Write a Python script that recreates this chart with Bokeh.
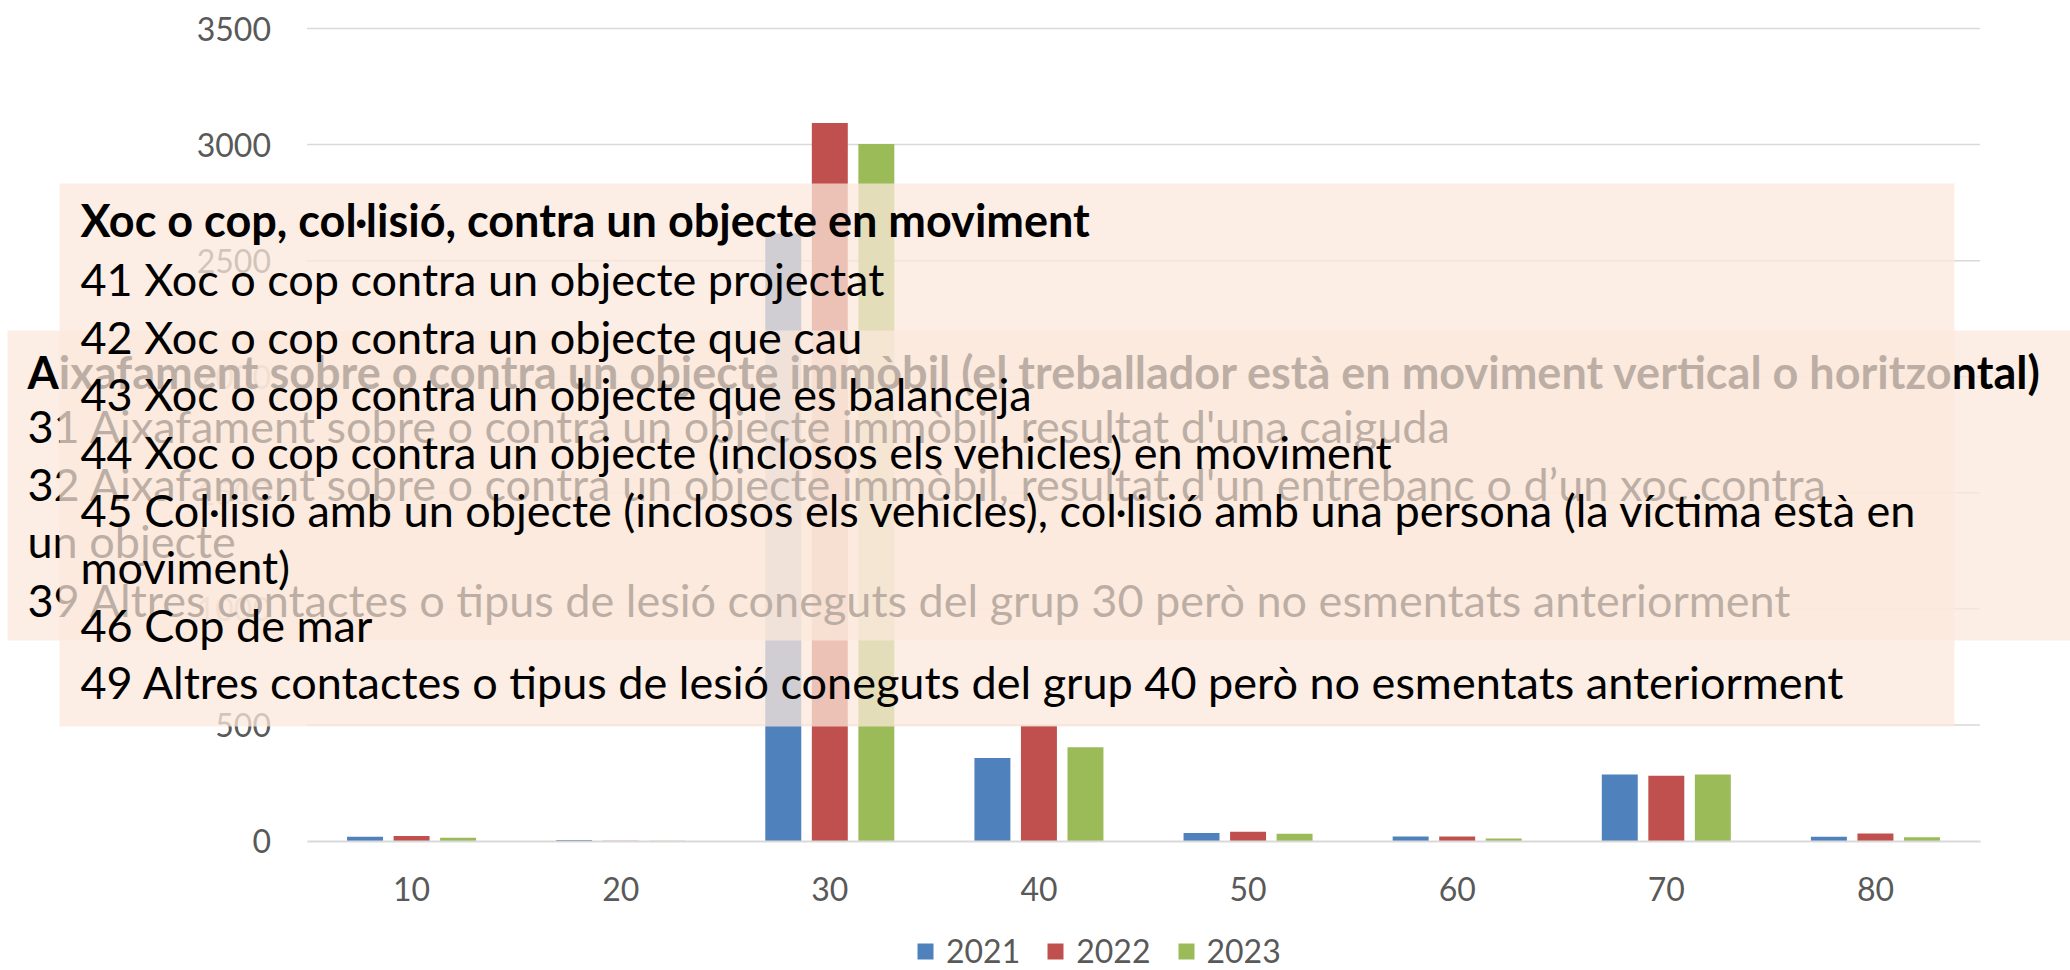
from bokeh.plotting import figure
from bokeh.models import (Range1d, ColumnDataSource, BoxAnnotation, Label, Legend,
                          LegendItem, FixedTicker, LinearAxis)
from bokeh.transform import dodge
from bokeh.embed import file_html
from bokeh.resources import INLINE

# ---------------- data ----------------
categories = ["10", "20", "30", "40", "50", "60", "70", "80"]
years = ["2021", "2022", "2023"]
v2021 = [18, 4, 2617, 358, 35, 19, 286, 18]
v2022 = [22, 1, 3093, 497, 40, 19, 281, 32]
v2023 = [14, 1, 3003, 404, 31, 11, 286, 16]
y_ticks = [0, 500, 1000, 1500, 2000, 2500, 3000, 3500]

box1_title = "Xoc o cop, col·lisió, contra un objecte en moviment"
box1_lines = [
    "41 Xoc o cop contra un objecte projectat",
    "42 Xoc o cop contra un objecte que cau",
    "43 Xoc o cop contra un objecte que es balanceja",
    "44 Xoc o cop contra un objecte (inclosos els vehicles) en moviment",
    "45 Col·lisió amb un objecte (inclosos els vehicles), col·lisió amb una persona (la víctima està en",
    "moviment)",
    "46 Cop de mar",
    "49 Altres contactes o tipus de lesió coneguts del grup 40 però no esmentats anteriorment",
]
box2_title = ("Aixafament sobre o contra un objecte immòbil (el treballador està en "
              "moviment vertical o horitzontal)")
box2_lines = [
    "31 Aixafament sobre o contra un objecte immòbil, resultat d'una caiguda",
    "32 Aixafament sobre o contra un objecte immòbil, resultat d'un entrebanc o d’un xoc contra",
    "un objecte",
    "39 Altres contactes o tipus de lesió coneguts del grup 30 però no esmentats anteriorment",
]

colors = ["#4F81BD", "#C0504D", "#9BBB59"]

# ---------------- layout (pixels) ----------------
W, H = 2070, 970
PL, PR, PT, PB = 306.5, 1979.5, 28.0, 840.5   # plot area in canvas pixels
FONT = "Lato"
AX_SIZE = "32px"
TXT_SIZE = "45px"

n = len(categories)
ymax = y_ticks[-1]
ux = (PR - PL) / n          # px per category
uy = (PB - PT) / ymax       # px per value unit

x_range = Range1d(-PL / ux, n + (W - PR) / ux)
y_range = Range1d(-(H - PB) / uy, ymax + PT / uy)

xc = [i + 0.5 for i in range(n)]
src = ColumnDataSource(dict(xc=xc, y2021=v2021, y2022=v2022, y2023=v2023))

p = figure(width=W, height=H, x_range=x_range, y_range=y_range,
           x_axis_type=None, y_axis_type=None,
           output_backend="svg", toolbar_location=None, title=None,
           min_border=0, min_border_left=0, min_border_right=0,
           min_border_top=0, min_border_bottom=0)
p.outline_line_color = None
p.background_fill_color = "white"
p.border_fill_color = "white"

# horizontal gridlines over the category area
p.segment(x0=[0] * (len(y_ticks) - 1), x1=[n] * (len(y_ticks) - 1),
          y0=y_ticks[1:], y1=y_ticks[1:], line_color="#D9D9D9", line_width=1.5)

yaxis = LinearAxis(ticker=FixedTicker(ticks=y_ticks), fixed_location=0,
                   axis_line_color=None, major_tick_line_color=None,
                   minor_tick_line_color=None, major_label_standoff=30,
                   major_label_text_font=FONT, major_label_text_font_size=AX_SIZE,
                   major_label_text_color="#595959")
p.add_layout(yaxis, "left")

xaxis = LinearAxis(ticker=FixedTicker(ticks=xc),
                   major_label_overrides={x: c for x, c in zip(xc, categories)},
                   fixed_location=0, bounds=(0, n),
                   axis_line_color="#D9D9D9", axis_line_width=2,
                   major_tick_line_color=None, minor_tick_line_color=None,
                   major_label_standoff=30,
                   major_label_text_font=FONT, major_label_text_font_size=AX_SIZE,
                   major_label_text_color="#595959")
p.add_layout(xaxis, "below")

offsets = [-0.2225, 0.0, 0.2225]
renderers = []
for yr, col, off in zip(years, colors, offsets):
    r = p.vbar(x=dodge("xc", off), top="y" + yr, width=0.172,
               source=src, fill_color=col, line_color=None)
    renderers.append(r)

legend = Legend(items=[LegendItem(label=yr, renderers=[r]) for yr, r in zip(years, renderers)],
                orientation="horizontal", location=(915, 0),
                glyph_width=20, glyph_height=20, label_standoff=11, spacing=25,
                padding=0, margin=0, border_line_color=None, background_fill_alpha=0,
                label_text_font=FONT, label_text_font_size=AX_SIZE,
                label_text_color="#595959")
p.add_layout(legend)


def dx(cx):
    return (cx - PL) / ux


def dy(cy):
    return (PB - cy) / uy


def add_box(x0, x1, y0, y1):
    p.add_layout(BoxAnnotation(left=dx(x0), right=dx(x1), top=dy(y0), bottom=dy(y1),
                               fill_color="#FBE8DB", fill_alpha=0.75, line_color=None))


def add_text(cx, cy, txt, bold=False):
    p.add_layout(Label(x=dx(cx), y=dy(cy), text=txt,
                       text_font=FONT, text_font_size=TXT_SIZE,
                       text_font_style="bold" if bold else "normal",
                       text_color="black", text_align="left", text_baseline="alphabetic"))


# box behind (group 30)
add_box(7, 2070, 330, 640)
b2 = [371, 425.5, 483, 540.5, 599]
add_text(27, b2[0], box2_title, bold=True)
for txt, cy in zip(box2_lines, b2[1:]):
    add_text(27, cy, txt)

# box in front (group 40)
add_box(59, 1954, 183, 726)
b1 = [219] + [221 + 57.6 * i for i in range(1, 9)]
add_text(80, b1[0], box1_title, bold=True)
for txt, cy in zip(box1_lines, b1[1:]):
    add_text(80, cy, txt)

open("out.html", "w").write(file_html(p, INLINE))
